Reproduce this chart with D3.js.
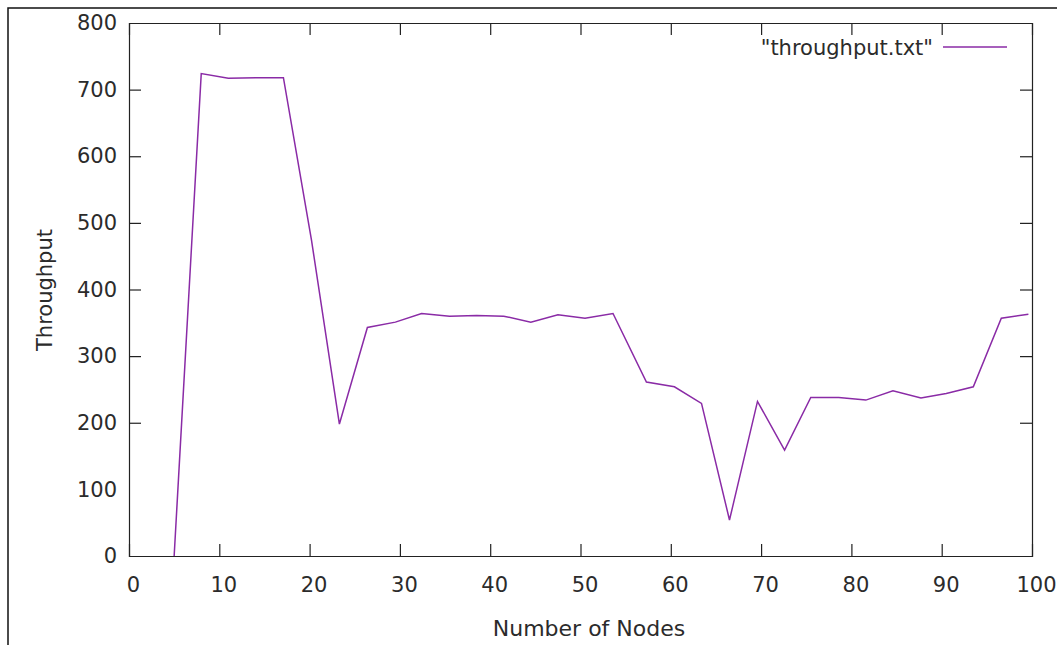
<!DOCTYPE html>
<html>
<head>
<meta charset="utf-8">
<script src="https://cdn.jsdelivr.net/npm/d3@7"></script>
<style>
  body { margin: 0; background: #fff; }
  svg text { font-family: "DejaVu Sans", sans-serif; fill: #2b2b2b; }
</style>
</head>
<body>
<script>
/* Values */
var nodes = [5.0, 8.0, 11.0, 14.1, 17.1, 20.2, 23.3, 26.4, 29.5, 32.4, 35.5,
             38.5, 41.5, 44.5, 47.5, 50.5, 53.6, 57.3, 60.4, 63.4, 66.5, 69.6,
             72.6, 75.5, 78.6, 81.6, 84.6, 87.7, 90.5, 93.5, 96.6, 99.6];
var throughput = [0, 724, 717, 718, 718, 475, 198, 343, 351, 364, 360,
                  361, 360, 351, 362, 357, 364, 261, 254, 229, 54, 232,
                  159, 238, 238, 234, 248, 237, 244, 254, 357, 363];
var xTicks = [0, 10, 20, 30, 40, 50, 60, 70, 80, 90, 100];
var yTicks = [0, 100, 200, 300, 400, 500, 600, 700, 800];
var seriesName = '"throughput.txt"';

/*
 * Draws the gnuplot style line chart.
 *
 * @returns void
 */
function draw() {
    /* Plot area inside the 1057x645 page */
    var margin = {top: 23, right: 25, bottom: 89, left: 129},
        width = 1057 - margin.left - margin.right,
        height = 645 - margin.top - margin.bottom;

    var root = d3.select('body')
        .append('svg')
        .attr('width', 1057)
        .attr('height', 645);

    /* Outer picture frame, only top and left edges are visible */
    root.append('rect')
        .attr('x', 8)
        .attr('y', 8)
        .attr('width', 1100)
        .attr('height', 700)
        .attr('fill', 'none')
        .attr('stroke', '#111')
        .attr('stroke-width', 1.5);

    var svg = root.append('g')
        .attr('transform', 'translate(' + margin.left + ',' + margin.top + ')');

    var x = d3.scaleLinear().domain([0, 100]).range([0, width]);
    var y = d3.scaleLinear().domain([0, 800]).range([height, 0]);
    var tick = 12;

    /* Axes with inward ticks, mirrored on top and right */
    var bottom = svg.append('g')
        .attr('transform', 'translate(0,' + height + ')')
        .call(d3.axisBottom(x).tickValues(xTicks).tickSize(-tick).tickPadding(21));
    svg.append('g')
        .call(d3.axisLeft(y).tickValues(yTicks).tickSize(-tick).tickPadding(12));
    svg.append('g')
        .call(d3.axisTop(x).tickValues(xTicks).tickSize(-tick).tickFormat(''));
    svg.append('g')
        .attr('transform', 'translate(' + width + ',0)')
        .call(d3.axisRight(y).tickValues(yTicks).tickSize(-tick).tickFormat(''));

    svg.selectAll('.domain').attr('stroke', '#222').attr('stroke-width', 1.2);
    svg.selectAll('.tick line').attr('stroke', '#222').attr('stroke-width', 1.2);
    svg.selectAll('.tick text')
        .style('font-size', '21px')
        .attr('fill', '#2b2b2b');
    bottom.selectAll('.tick text').attr('dx', 4);

    /* Hide the ticks that sit on the corners */
    svg.selectAll('.tick line')
        .filter(function (d) { return d === 0 || d === 100 || d === 800; })
        .attr('stroke-opacity', 0);

    /* Data line */
    var line = d3.line()
        .x(function (d, i) { return x(nodes[i]); })
        .y(function (d) { return y(d); });

    svg.append('path')
        .datum(throughput)
        .attr('d', line)
        .attr('fill', 'none')
        .attr('stroke', '#8a2ba6')
        .attr('stroke-width', 1.5)
        .attr('stroke-linejoin', 'miter');

    /* Legend */
    var legend = svg.append('g')
        .attr('transform', 'translate(' + (943 - margin.left) + ',' + (47 - margin.top) + ')');
    legend.append('line')
        .attr('x1', 0)
        .attr('x2', 64)
        .attr('stroke', '#8a2ba6')
        .attr('stroke-width', 1.5);
    legend.append('text')
        .attr('x', -10)
        .attr('dy', '0.36em')
        .attr('text-anchor', 'end')
        .style('font-size', '21px')
        .text(seriesName);

    /* Axis titles */
    root.append('text')
        .attr('x', 589)
        .attr('y', 636)
        .attr('text-anchor', 'middle')
        .style('font-size', '22px')
        .text('Number of Nodes');

    root.append('text')
        .attr('transform', 'translate(52,290) rotate(-90)')
        .attr('text-anchor', 'middle')
        .style('font-size', '21px')
        .text('Throughput');
}

draw();
</script>
</body>
</html>
